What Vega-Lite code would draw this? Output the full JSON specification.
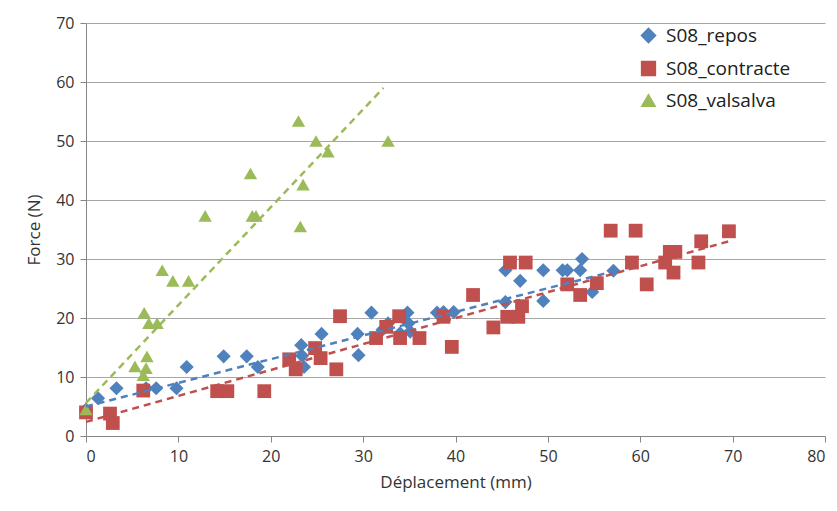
{
  "$schema": "https://vega.github.io/schema/vega-lite/v6.json",
  "width": 739,
  "height": 413,
  "autosize": {"type": "none"},
  "padding": {"left": 86, "top": 23, "right": 12, "bottom": 75},
  "background": "white",
  "config": {
    "font": "Open Sans",
    "view": {"stroke": null}
  },
  "datasets": {
    "points": [
      {"serie": "S08_repos", "Deplacement": 0, "Force": 4.5},
      {"serie": "S08_repos", "Deplacement": 1.3, "Force": 6.4},
      {"serie": "S08_repos", "Deplacement": 3.3, "Force": 8.1},
      {"serie": "S08_repos", "Deplacement": 6.5, "Force": 8.1},
      {"serie": "S08_repos", "Deplacement": 7.6, "Force": 8.1},
      {"serie": "S08_repos", "Deplacement": 9.8, "Force": 8.1},
      {"serie": "S08_repos", "Deplacement": 10.9, "Force": 11.7},
      {"serie": "S08_repos", "Deplacement": 14.9, "Force": 13.5},
      {"serie": "S08_repos", "Deplacement": 17.4, "Force": 13.5},
      {"serie": "S08_repos", "Deplacement": 18.6, "Force": 11.7},
      {"serie": "S08_repos", "Deplacement": 23.3, "Force": 15.4},
      {"serie": "S08_repos", "Deplacement": 23.4, "Force": 13.6},
      {"serie": "S08_repos", "Deplacement": 23.6, "Force": 11.7},
      {"serie": "S08_repos", "Deplacement": 25.5, "Force": 17.3},
      {"serie": "S08_repos", "Deplacement": 29.4, "Force": 17.3},
      {"serie": "S08_repos", "Deplacement": 29.5, "Force": 13.7},
      {"serie": "S08_repos", "Deplacement": 30.9, "Force": 20.9},
      {"serie": "S08_repos", "Deplacement": 32.1, "Force": 18.0},
      {"serie": "S08_repos", "Deplacement": 32.7, "Force": 19.1},
      {"serie": "S08_repos", "Deplacement": 34.0, "Force": 17.4},
      {"serie": "S08_repos", "Deplacement": 34.8, "Force": 20.9},
      {"serie": "S08_repos", "Deplacement": 34.9, "Force": 19.1},
      {"serie": "S08_repos", "Deplacement": 35.1, "Force": 17.7},
      {"serie": "S08_repos", "Deplacement": 38.0, "Force": 20.9},
      {"serie": "S08_repos", "Deplacement": 38.7, "Force": 21.0},
      {"serie": "S08_repos", "Deplacement": 39.8, "Force": 21.0},
      {"serie": "S08_repos", "Deplacement": 45.4, "Force": 28.1},
      {"serie": "S08_repos", "Deplacement": 45.4, "Force": 22.7},
      {"serie": "S08_repos", "Deplacement": 47.0, "Force": 26.3},
      {"serie": "S08_repos", "Deplacement": 49.5, "Force": 28.1},
      {"serie": "S08_repos", "Deplacement": 49.5, "Force": 22.9},
      {"serie": "S08_repos", "Deplacement": 51.6, "Force": 28.1},
      {"serie": "S08_repos", "Deplacement": 52.1, "Force": 28.1},
      {"serie": "S08_repos", "Deplacement": 53.7, "Force": 30.0},
      {"serie": "S08_repos", "Deplacement": 53.5, "Force": 28.1},
      {"serie": "S08_repos", "Deplacement": 54.8, "Force": 24.4},
      {"serie": "S08_repos", "Deplacement": 57.1, "Force": 28.0},
      {"serie": "S08_contracte", "Deplacement": 0, "Force": 4.0},
      {"serie": "S08_contracte", "Deplacement": 2.6, "Force": 3.8},
      {"serie": "S08_contracte", "Deplacement": 2.9, "Force": 2.2},
      {"serie": "S08_contracte", "Deplacement": 6.2, "Force": 7.7},
      {"serie": "S08_contracte", "Deplacement": 14.2, "Force": 7.6},
      {"serie": "S08_contracte", "Deplacement": 15.3, "Force": 7.6},
      {"serie": "S08_contracte", "Deplacement": 19.3, "Force": 7.6},
      {"serie": "S08_contracte", "Deplacement": 22.0, "Force": 13.0},
      {"serie": "S08_contracte", "Deplacement": 22.7, "Force": 11.3},
      {"serie": "S08_contracte", "Deplacement": 24.8, "Force": 14.9},
      {"serie": "S08_contracte", "Deplacement": 25.4, "Force": 13.2},
      {"serie": "S08_contracte", "Deplacement": 27.5, "Force": 20.3},
      {"serie": "S08_contracte", "Deplacement": 27.1, "Force": 11.3},
      {"serie": "S08_contracte", "Deplacement": 31.4, "Force": 16.6},
      {"serie": "S08_contracte", "Deplacement": 32.5, "Force": 18.5},
      {"serie": "S08_contracte", "Deplacement": 33.9, "Force": 20.3},
      {"serie": "S08_contracte", "Deplacement": 34.0, "Force": 16.6},
      {"serie": "S08_contracte", "Deplacement": 36.1, "Force": 16.6},
      {"serie": "S08_contracte", "Deplacement": 38.7, "Force": 20.2},
      {"serie": "S08_contracte", "Deplacement": 39.6, "Force": 15.1},
      {"serie": "S08_contracte", "Deplacement": 41.9, "Force": 23.9},
      {"serie": "S08_contracte", "Deplacement": 44.1, "Force": 18.4},
      {"serie": "S08_contracte", "Deplacement": 45.6, "Force": 20.2},
      {"serie": "S08_contracte", "Deplacement": 45.9, "Force": 29.4},
      {"serie": "S08_contracte", "Deplacement": 47.6, "Force": 29.4},
      {"serie": "S08_contracte", "Deplacement": 46.8, "Force": 20.2},
      {"serie": "S08_contracte", "Deplacement": 47.2, "Force": 22.0},
      {"serie": "S08_contracte", "Deplacement": 52.1, "Force": 25.7},
      {"serie": "S08_contracte", "Deplacement": 53.5, "Force": 23.9},
      {"serie": "S08_contracte", "Deplacement": 55.3, "Force": 25.9},
      {"serie": "S08_contracte", "Deplacement": 56.8, "Force": 34.8},
      {"serie": "S08_contracte", "Deplacement": 59.5, "Force": 34.8},
      {"serie": "S08_contracte", "Deplacement": 59.1, "Force": 29.4},
      {"serie": "S08_contracte", "Deplacement": 60.7, "Force": 25.7},
      {"serie": "S08_contracte", "Deplacement": 62.7, "Force": 29.4},
      {"serie": "S08_contracte", "Deplacement": 63.2, "Force": 31.2},
      {"serie": "S08_contracte", "Deplacement": 63.8, "Force": 31.2},
      {"serie": "S08_contracte", "Deplacement": 63.6, "Force": 27.7},
      {"serie": "S08_contracte", "Deplacement": 66.3, "Force": 29.4},
      {"serie": "S08_contracte", "Deplacement": 66.6, "Force": 33.0},
      {"serie": "S08_contracte", "Deplacement": 69.6, "Force": 34.7},
      {"serie": "S08_valsalva", "Deplacement": 0, "Force": 4.5},
      {"serie": "S08_valsalva", "Deplacement": 5.3, "Force": 11.8},
      {"serie": "S08_valsalva", "Deplacement": 6.2, "Force": 10.3},
      {"serie": "S08_valsalva", "Deplacement": 6.5, "Force": 11.5},
      {"serie": "S08_valsalva", "Deplacement": 6.6, "Force": 13.5},
      {"serie": "S08_valsalva", "Deplacement": 6.3, "Force": 20.9},
      {"serie": "S08_valsalva", "Deplacement": 6.8, "Force": 19.1},
      {"serie": "S08_valsalva", "Deplacement": 7.7, "Force": 19.1},
      {"serie": "S08_valsalva", "Deplacement": 8.25, "Force": 28.1},
      {"serie": "S08_valsalva", "Deplacement": 9.4, "Force": 26.3},
      {"serie": "S08_valsalva", "Deplacement": 11.1, "Force": 26.3},
      {"serie": "S08_valsalva", "Deplacement": 12.9, "Force": 37.3},
      {"serie": "S08_valsalva", "Deplacement": 18.0, "Force": 37.3},
      {"serie": "S08_valsalva", "Deplacement": 18.4, "Force": 37.3},
      {"serie": "S08_valsalva", "Deplacement": 17.8, "Force": 44.5},
      {"serie": "S08_valsalva", "Deplacement": 23.5, "Force": 42.6},
      {"serie": "S08_valsalva", "Deplacement": 23.2, "Force": 35.5},
      {"serie": "S08_valsalva", "Deplacement": 23.0, "Force": 53.4},
      {"serie": "S08_valsalva", "Deplacement": 24.9, "Force": 50.0},
      {"serie": "S08_valsalva", "Deplacement": 26.2, "Force": 48.2},
      {"serie": "S08_valsalva", "Deplacement": 32.7, "Force": 50.0}
    ],
    "trends": [
      {"serie": "S08_repos", "Deplacement": 0, "Force": 5.0},
      {"serie": "S08_repos", "Deplacement": 57.1, "Force": 27.9},
      {"serie": "S08_contracte", "Deplacement": 0, "Force": 2.4},
      {"serie": "S08_contracte", "Deplacement": 69.6, "Force": 33.0},
      {"serie": "S08_valsalva", "Deplacement": 0, "Force": 5.6},
      {"serie": "S08_valsalva", "Deplacement": 32.2, "Force": 59.0}
    ]
  },
  "layer": [
    {
      "data": {"name": "points"},
      "mark": {"type": "point", "filled": true, "opacity": 1},
      "encoding": {
        "x": {
          "field": "Deplacement", "type": "quantitative",
          "scale": {"domain": [0, 80], "nice": false, "zero": true},
          "axis": {
            "title": "Déplacement (mm)", "values": [0,10,20,30,40,50,60,70,80],
            "grid": false, "domainColor": "#868686", "tickColor": "#868686", "tickSize": 6,
            "labelFontSize": 16, "labelColor": "#333333", "labelPadding": 6,
            "titleFontSize": 17, "titleFontWeight": "normal", "titleColor": "#333333", "titlePadding": 10
          }
        },
        "y": {
          "field": "Force", "type": "quantitative",
          "scale": {"domain": [0, 70], "nice": false},
          "axis": {
            "title": "Force (N)", "values": [0,10,20,30,40,50,60,70],
            "grid": true, "gridColor": "#A6A6A6", "domainColor": "#868686", "tickColor": "#868686", "tickSize": 6,
            "labelFontSize": 16, "labelColor": "#333333", "labelPadding": 6,
            "titleFontSize": 17, "titleFontWeight": "normal", "titleColor": "#333333", "titlePadding": 12
          }
        },
        "size": {
          "field": "serie", "type": "nominal",
          "scale": {"domain": ["S08_repos", "S08_contracte", "S08_valsalva"], "range": [200, 180, 210]},
          "legend": null
        },
        "color": {
          "field": "serie", "type": "nominal",
          "scale": {"domain": ["S08_repos", "S08_contracte", "S08_valsalva"], "range": ["#4F81BD", "#C0504D", "#9BBB59"]},
          "legend": {
            "title": null, "orient": "none", "legendX": 553, "legendY": 3,
            "labelFontSize": 19, "labelColor": "#202020", "symbolSize": 130, "rowPadding": 12, "labelOffset": 8
          }
        },
        "shape": {
          "field": "serie", "type": "nominal",
          "scale": {"domain": ["S08_repos", "S08_contracte", "S08_valsalva"], "range": ["diamond", "square", "triangle-up"]},
          "legend": {
            "title": null, "orient": "none", "legendX": 553, "legendY": 3,
            "labelFontSize": 19, "labelColor": "#202020", "symbolSize": 130, "rowPadding": 12, "labelOffset": 8
          }
        }
      }
    },
    {
      "data": {"name": "trends"},
      "mark": {"type": "line", "strokeDash": [7, 5], "strokeWidth": 2.5},
      "encoding": {
        "x": {"field": "Deplacement", "type": "quantitative"},
        "y": {"field": "Force", "type": "quantitative"},
        "color": {"field": "serie", "type": "nominal", "legend": null},
        "detail": {"field": "serie"}
      }
    }
  ]
}
